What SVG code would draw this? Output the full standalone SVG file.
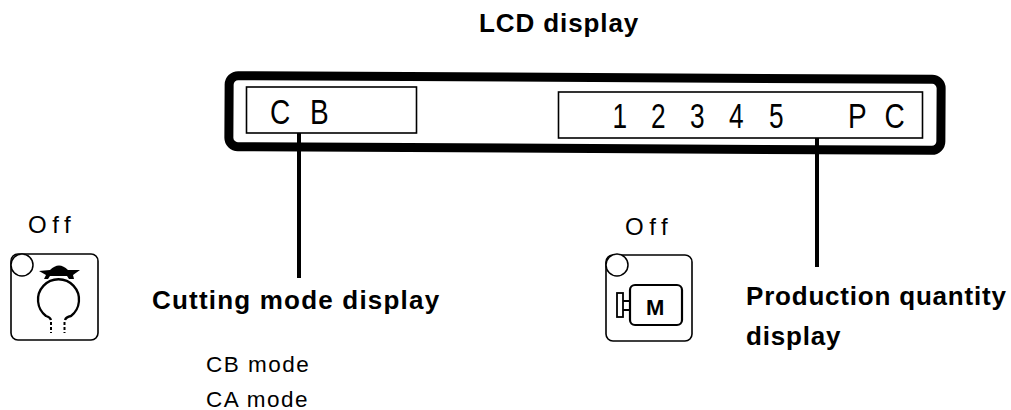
<svg xmlns="http://www.w3.org/2000/svg" width="1011" height="410" viewBox="0 0 1011 410">
<style>
text{font-family:"Liberation Sans",Arial,sans-serif;fill:#000}
.b{font-weight:700;font-size:26px}
.n{font-size:22.500px;letter-spacing:1.500px}
.o{font-size:24px;letter-spacing:5.500px}
.d{font-size:35px}
.t{fill:none;stroke:#000;stroke-width:1.6}
</style>
<rect width="1011" height="410" fill="#fff"/>
<g id="lcd-title"><text class="b" x="479" y="32" letter-spacing=".9">LCD display</text></g>
<g id="lcd-frame">
<rect x="229" y="77.500" width="712" height="71" rx="9" fill="none" stroke="#000" stroke-width="9" transform="rotate(0.3 585 113)"/>
</g>
<g id="cb-display">
<rect class="t" x="246.500" y="87" width="170" height="46"/>
<text class="d" transform="translate(270 124) scale(.8 1)">C</text><text class="d" transform="translate(310 124) scale(.8 1)">B</text>
</g>
<g id="qty-display">
<rect class="t" x="558.500" y="92" width="364" height="46"/>
<text class="d" transform="translate(612.500 128) scale(.75 1)">1</text>
<text class="d" transform="translate(651 128) scale(.75 1)">2</text>
<text class="d" transform="translate(690 128) scale(.75 1)">3</text>
<text class="d" transform="translate(729 128) scale(.75 1)">4</text>
<text class="d" transform="translate(769 128) scale(.75 1)">5</text>
<text class="d" transform="translate(848 128) scale(.8 1)">P</text>
<text class="d" transform="translate(884.500 128) scale(.8 1)">C</text>
</g>
<g id="connectors">
<line x1="299" y1="133" x2="299" y2="278" stroke="#000" stroke-width="4"/>
<line x1="817" y1="138" x2="817" y2="267" stroke="#000" stroke-width="4"/>
</g>
<g id="off-left">
<text class="o" x="28" y="233">Off</text>
<rect class="t" x="11" y="254" width="87" height="86" rx="7"/>
<circle cx="22" cy="265" r="11" fill="#fff" stroke="#000" stroke-width="1.500"/>
<path d="M39 271 L50 270 Q59 261 68 270 L80 270 L73 275 L74 279 L69 279 L67 276 L50 276 L48 279 L44 279 L46 275Z" fill="#000"/>
<path d="M51 320 Q50 317 46 316 A20.500 20.500 0 1 1 71 316 Q66 317 65 320" fill="none" stroke="#000" stroke-width="2.300"/>
<path d="M51 322V333M64.500 322V333" stroke="#000" stroke-width="2" stroke-dasharray="3 2"/>
</g>
<g id="off-right">
<text class="o" x="625" y="235">Off</text>
<rect class="t" x="606" y="255" width="86" height="86" rx="7"/>
<circle cx="617" cy="265" r="11" fill="#fff" stroke="#000" stroke-width="1.500"/>
<rect x="630" y="285" width="52" height="40" rx="5" fill="none" stroke="#000" stroke-width="2.200"/>
<rect x="617" y="293" width="6" height="24" fill="none" stroke="#000" stroke-width="1.800"/>
<path d="M623 301H630M623 310H630" stroke="#000" stroke-width="1.800"/>
<text x="646" y="315" font-size="22" font-weight="700">M</text>
</g>
<g id="cutting-label"><text class="b" x="152" y="309" letter-spacing="1.200">Cutting mode display</text></g>
<g id="production-label"><text class="b" x="746" y="305" letter-spacing=".8">Production quantity</text><text class="b" x="746" y="345" letter-spacing=".8">display</text></g>
<g id="modes"><text class="n" x="206" y="372">CB mode</text><text class="n" x="206" y="407">CA mode</text></g>
</svg>
